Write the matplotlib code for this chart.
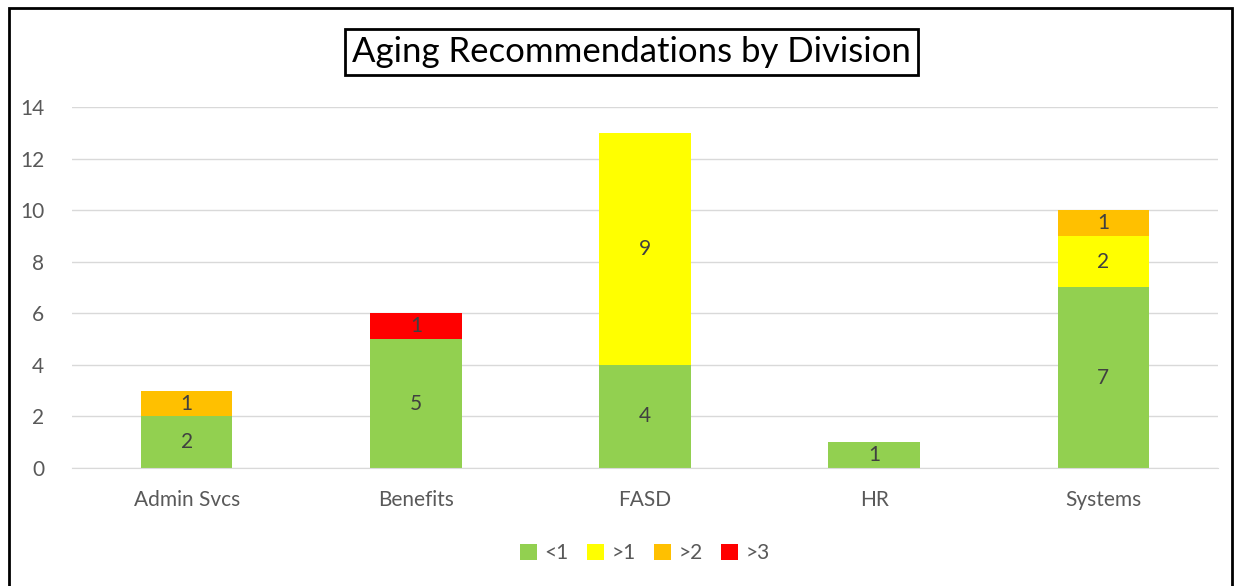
import matplotlib
matplotlib.use("Agg")
from matplotlib import pyplot as plt
from matplotlib.patches import Rectangle

plt.rcParams['font.family'] = ['Lato', 'DejaVu Sans']

divisions = ["Admin Svcs", "Benefits", "FASD", "HR", "Systems"]
series = ["<1", ">1", ">2", ">3"]
lt1 = [2, 5, 4, 1, 7]
gt1 = [0, 0, 9, 0, 2]
gt2 = [1, 0, 0, 0, 1]
gt3 = [0, 1, 0, 0, 0]
colors = ["#92D050", "#FFFF00", "#FFC000", "#FF0000"]

fig = plt.figure(figsize=(12.42, 5.86), dpi=100)
ax = fig.add_axes([0.058, 0.2014, 0.9227, 0.616])

x = list(range(len(divisions)))
bottom = [0] * len(divisions)
for name, vals, col in zip(series, [lt1, gt1, gt2, gt3], colors):
    ax.bar(x, vals, 0.4, bottom=bottom, color=col, label=name, zorder=2)
    for i, v in enumerate(vals):
        if v:
            ax.text(i, bottom[i] + v / 2, str(v), ha="center", va="center",
                    fontsize=15, color="#404040", zorder=3)
    bottom = [b + v for b, v in zip(bottom, vals)]

ax.set_xlim(-0.5, 4.5)
ax.set_ylim(0, 14)
ax.set_yticks(range(0, 15, 2))
ax.set_xticks(x)
ax.set_xticklabels(divisions)
ax.tick_params(axis="both", length=0, labelsize=15, labelcolor="#595959")
ax.tick_params(axis="x", pad=16)
ax.tick_params(axis="y", pad=20)
ax.grid(axis="y", color="#D9D9D9", linewidth=1, zorder=0)
for s in ["top", "right", "left"]:
    ax.spines[s].set_visible(False)
ax.spines["bottom"].set_color("#D9D9D9")

fig.text(0.5085, 0.912, "Aging Recommendations by Division", ha="center", va="center",
         fontsize=25, color="black",
         bbox=dict(boxstyle="square,pad=0.2", fc="white", ec="black", lw=2))

ax.legend(loc="center", bbox_to_anchor=(0.5, -0.235), ncol=4, frameon=False,
          fontsize=15, handlelength=0.8, handleheight=0.8, columnspacing=0.9,
          handletextpad=0.35, labelcolor="#595959")

fig.patches.append(Rectangle((0.007, -0.05), 0.985, 1.037, transform=fig.transFigure,
                             fill=False, ec="black", lw=2))

fig.savefig("out.png", dpi=100)
